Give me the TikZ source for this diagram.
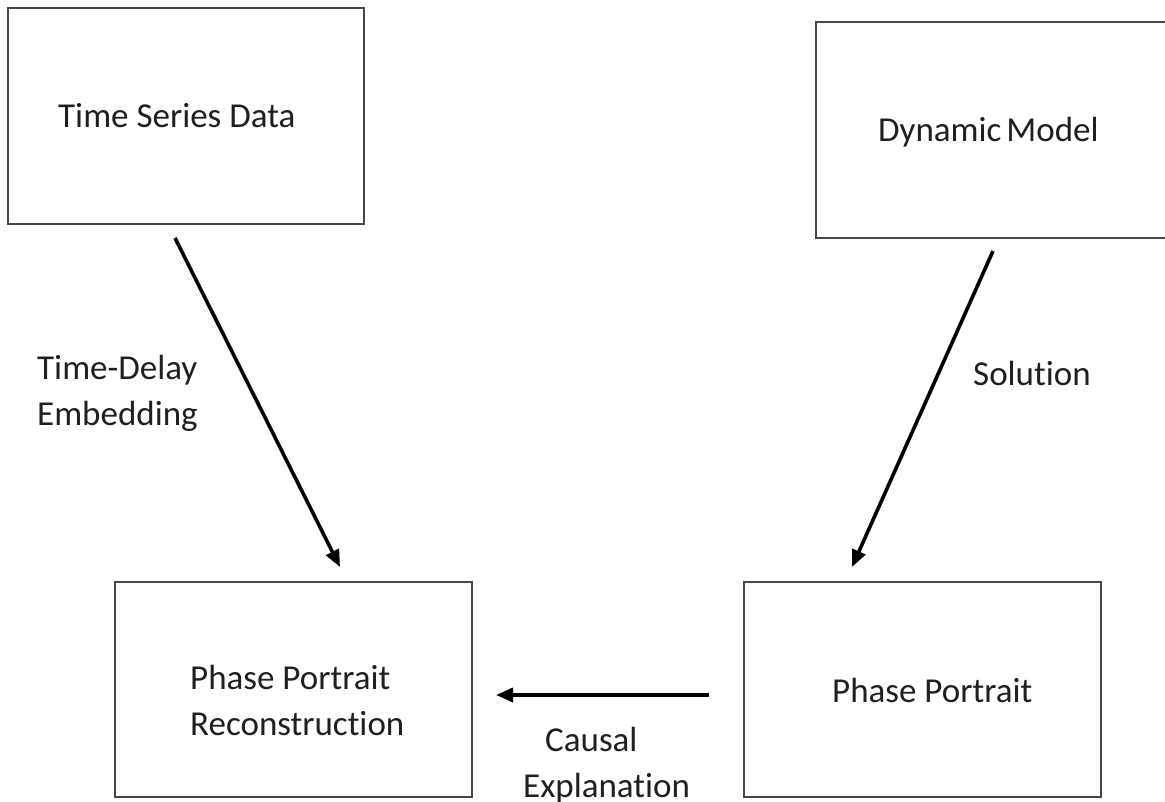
\documentclass[tikz,border=0pt]{standalone}
\usepackage{fontspec}
\setmainfont[Ligatures={NoCommon}]{Carlito}
\usetikzlibrary{arrows.meta}
\begin{document}
\begin{tikzpicture}[x=1pt,y=-1pt,
  box/.style={draw=black!72, line width=1.8pt, rectangle, inner sep=0pt},
  lbl/.style={font=\fontsize{35}{46}\selectfont, text=black!88, inner sep=0pt, align=left, anchor=base west},
  conn/.style={draw=black, line width=3.6pt, -{Triangle[length=17pt,width=14pt]}}]
\useasboundingbox (0,0) rectangle (1165,802);
% boxes
\node[box, minimum width=356pt, minimum height=216pt] (tsd) at (186,116) {};
\node[box, minimum width=353pt, minimum height=216pt, anchor=north west] (dm) at (815,21) {};
\node[box, minimum width=357pt, minimum height=215pt] (ppr) at (293.5,689.5) {};
\node[box, minimum width=357pt, minimum height=215pt] (pp) at (922.5,689.5) {};
% box texts
\node[lbl] (tsdt) at (58,128) {Time Series Data};
\node[lbl] (dmt) at (878,142) {Dynamic\hspace{-3pt} Model};
\node[lbl] (pprt) at (190,735) {Phase Portrait\\Reconstruction};
\node[lbl] (ppt) at (832,702) {Phase Portrait};
% connector labels
\node[lbl] (tde) at (37,425) {Time-Delay\\Embedding};
\node[lbl] (sol) at (973,385) {Solution};
\node[lbl] (cex) at (523,797) {\hspace*{22pt}Causal\\Explanation};
% connector ends
\coordinate (a1s) at (175,238);
\coordinate (a1e) at (340,567);
\coordinate (a2s) at (993,251);
\coordinate (a2e) at (852,567);
\coordinate (a3s) at (709,695);
\coordinate (a3e) at (496,695);
\draw[conn] (a1s) -- (a1e);
\draw[conn] (a2s) -- (a2e);
\draw[conn] (a3s) -- (a3e);
\end{tikzpicture}
\end{document}
